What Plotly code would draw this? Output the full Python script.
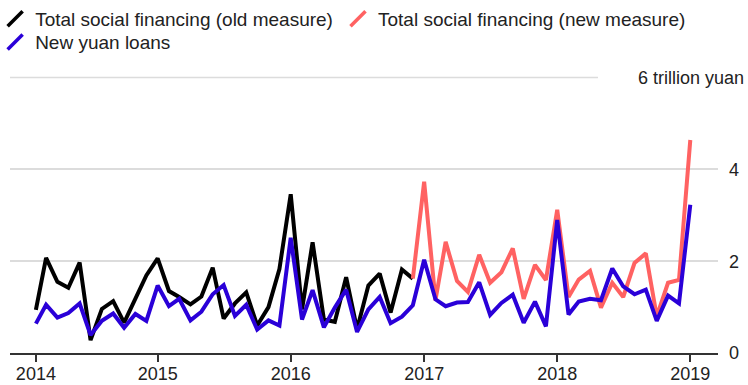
import pandas as pd
import plotly.graph_objects as go

# Monthly flows, trillion yuan
months = pd.date_range("2014-02-01", "2019-01-01", freq="MS")

new_loans = [
    0.64, 1.05, 0.77, 0.87, 1.08, 0.39, 0.70, 0.86, 0.55, 0.85, 0.70,
    1.47, 1.02, 1.18, 0.71, 0.90, 1.28, 1.48, 0.81, 1.05, 0.51, 0.71, 0.60,
    2.51, 0.73, 1.37, 0.56, 0.99, 1.38, 0.46, 0.95, 1.22, 0.65, 0.79, 1.04,
    2.03, 1.17, 1.02, 1.10, 1.11, 1.54, 0.83, 1.09, 1.27, 0.66, 1.12, 0.58,
    2.90, 0.84, 1.12, 1.18, 1.15, 1.84, 1.45, 1.28, 1.38, 0.70, 1.25, 1.08,
    3.23,
]

tsf_old = [
    0.94, 2.07, 1.55, 1.42, 1.97, 0.28, 0.96, 1.13, 0.66, 1.16, 1.69,
    2.06, 1.35, 1.22, 1.06, 1.23, 1.86, 0.75, 1.08, 1.32, 0.60, 1.00, 1.83,
    3.46, 0.95, 2.41, 0.73, 0.68, 1.65, 0.52, 1.47, 1.73, 0.88, 1.82, 1.62,
]

tsf_new = [
    1.62,
    3.73, 1.15, 2.42, 1.57, 1.33, 2.14, 1.53, 1.76, 2.28, 1.18, 1.92, 1.59,
    3.12, 1.22, 1.60, 1.79, 0.99, 1.53, 1.22, 1.96, 2.17, 0.80, 1.53, 1.59,
    4.64,
]

tick_dates = ["2014-02-01", "2015-01-01", "2016-01-01", "2017-01-01",
              "2018-01-01", "2019-01-01"]
tick_years = ["2014", "2015", "2016", "2017", "2018", "2019"]

BLACK = "#000000"
RED = "#ff6262"
BLUE = "#2a00d8"
TEXT = "#222222"
GRID = "#dcdcdc"
FONT = "Liberation Sans, Arial, sans-serif"

months_old = months[: len(tsf_old)]
months_new = months[len(tsf_old) - 1: len(tsf_old) - 1 + len(tsf_new)]

fig = go.Figure()

series = [
    ("Total social financing (old measure)", months_old, tsf_old, BLACK, "legend"),
    ("Total social financing (new measure)", months_new, tsf_new, RED, "legend2"),
    ("New yuan loans", months, new_loans, BLUE, "legend3"),
]

for name, xs, ys, color, _ in series:
    fig.add_trace(go.Scatter(
        x=xs, y=ys, mode="lines", name=name, showlegend=False,
        line=dict(color=color, width=4),
        hoverinfo="x+y",
    ))

# Legend entries drawn with a slanted stroke icon
for name, _, _, color, leg in series:
    fig.add_trace(go.Scatter(
        x=[None], y=[None], mode="markers", name=name, legend=leg,
        marker=dict(symbol="line-ne-open", size=15, color=color,
                    line=dict(color=color, width=3.5)),
    ))

# Top gridline stops short of the unit label
fig.add_shape(type="line", xref="paper", yref="y",
              x0=0, x1=0.8305, y0=6, y1=6,
              line=dict(color=GRID, width=1.5), layer="below")

fig.add_annotation(
    text="6 trillion yuan", xref="paper", yref="y",
    x=1.0395, y=6, xanchor="right", yanchor="middle",
    showarrow=False, font=dict(size=18, color=TEXT, family=FONT),
)

legend_style = dict(
    orientation="h", xref="paper", yref="container",
    xanchor="left", yanchor="top",
    font=dict(size=19, color=TEXT, family=FONT),
    itemsizing="trace", tracegroupgap=0,
    bgcolor="rgba(0,0,0,0)",
)

fig.update_layout(
    width=748, height=385,
    margin=dict(l=10, r=30, t=73, b=32, autoexpand=False),
    paper_bgcolor="white", plot_bgcolor="white",
    font=dict(family=FONT, color=TEXT, size=18),
    legend=dict(legend_style, x=-0.021, y=1.0),
    legend2=dict(legend_style, x=0.4633, y=1.0),
    legend3=dict(legend_style, x=-0.021, y=0.94),
    xaxis=dict(
        type="date", automargin=False,
        range=["2013-11-22", "2019-03-18"],
        tickvals=tick_dates, ticktext=tick_years,
        showgrid=False, zeroline=False,
        showline=True, linecolor="#333333", linewidth=2,
        ticks="outside", ticklen=7, tickwidth=1.5, tickcolor="#333333",
        tickfont=dict(size=18, color=TEXT, family=FONT),
        ticklabelstandoff=-4,
    ),
    yaxis=dict(
        side="right", range=[0, 6.1], automargin=False,
        tickvals=[0, 2, 4], ticktext=["0", "2", "4"],
        showgrid=True, gridcolor=GRID, gridwidth=1.5,
        zeroline=False, showline=False, ticks="",
        tickfont=dict(size=18, color=TEXT, family=FONT),
        ticklabelstandoff=10,
    ),
)

fig.write_html("out.html")
